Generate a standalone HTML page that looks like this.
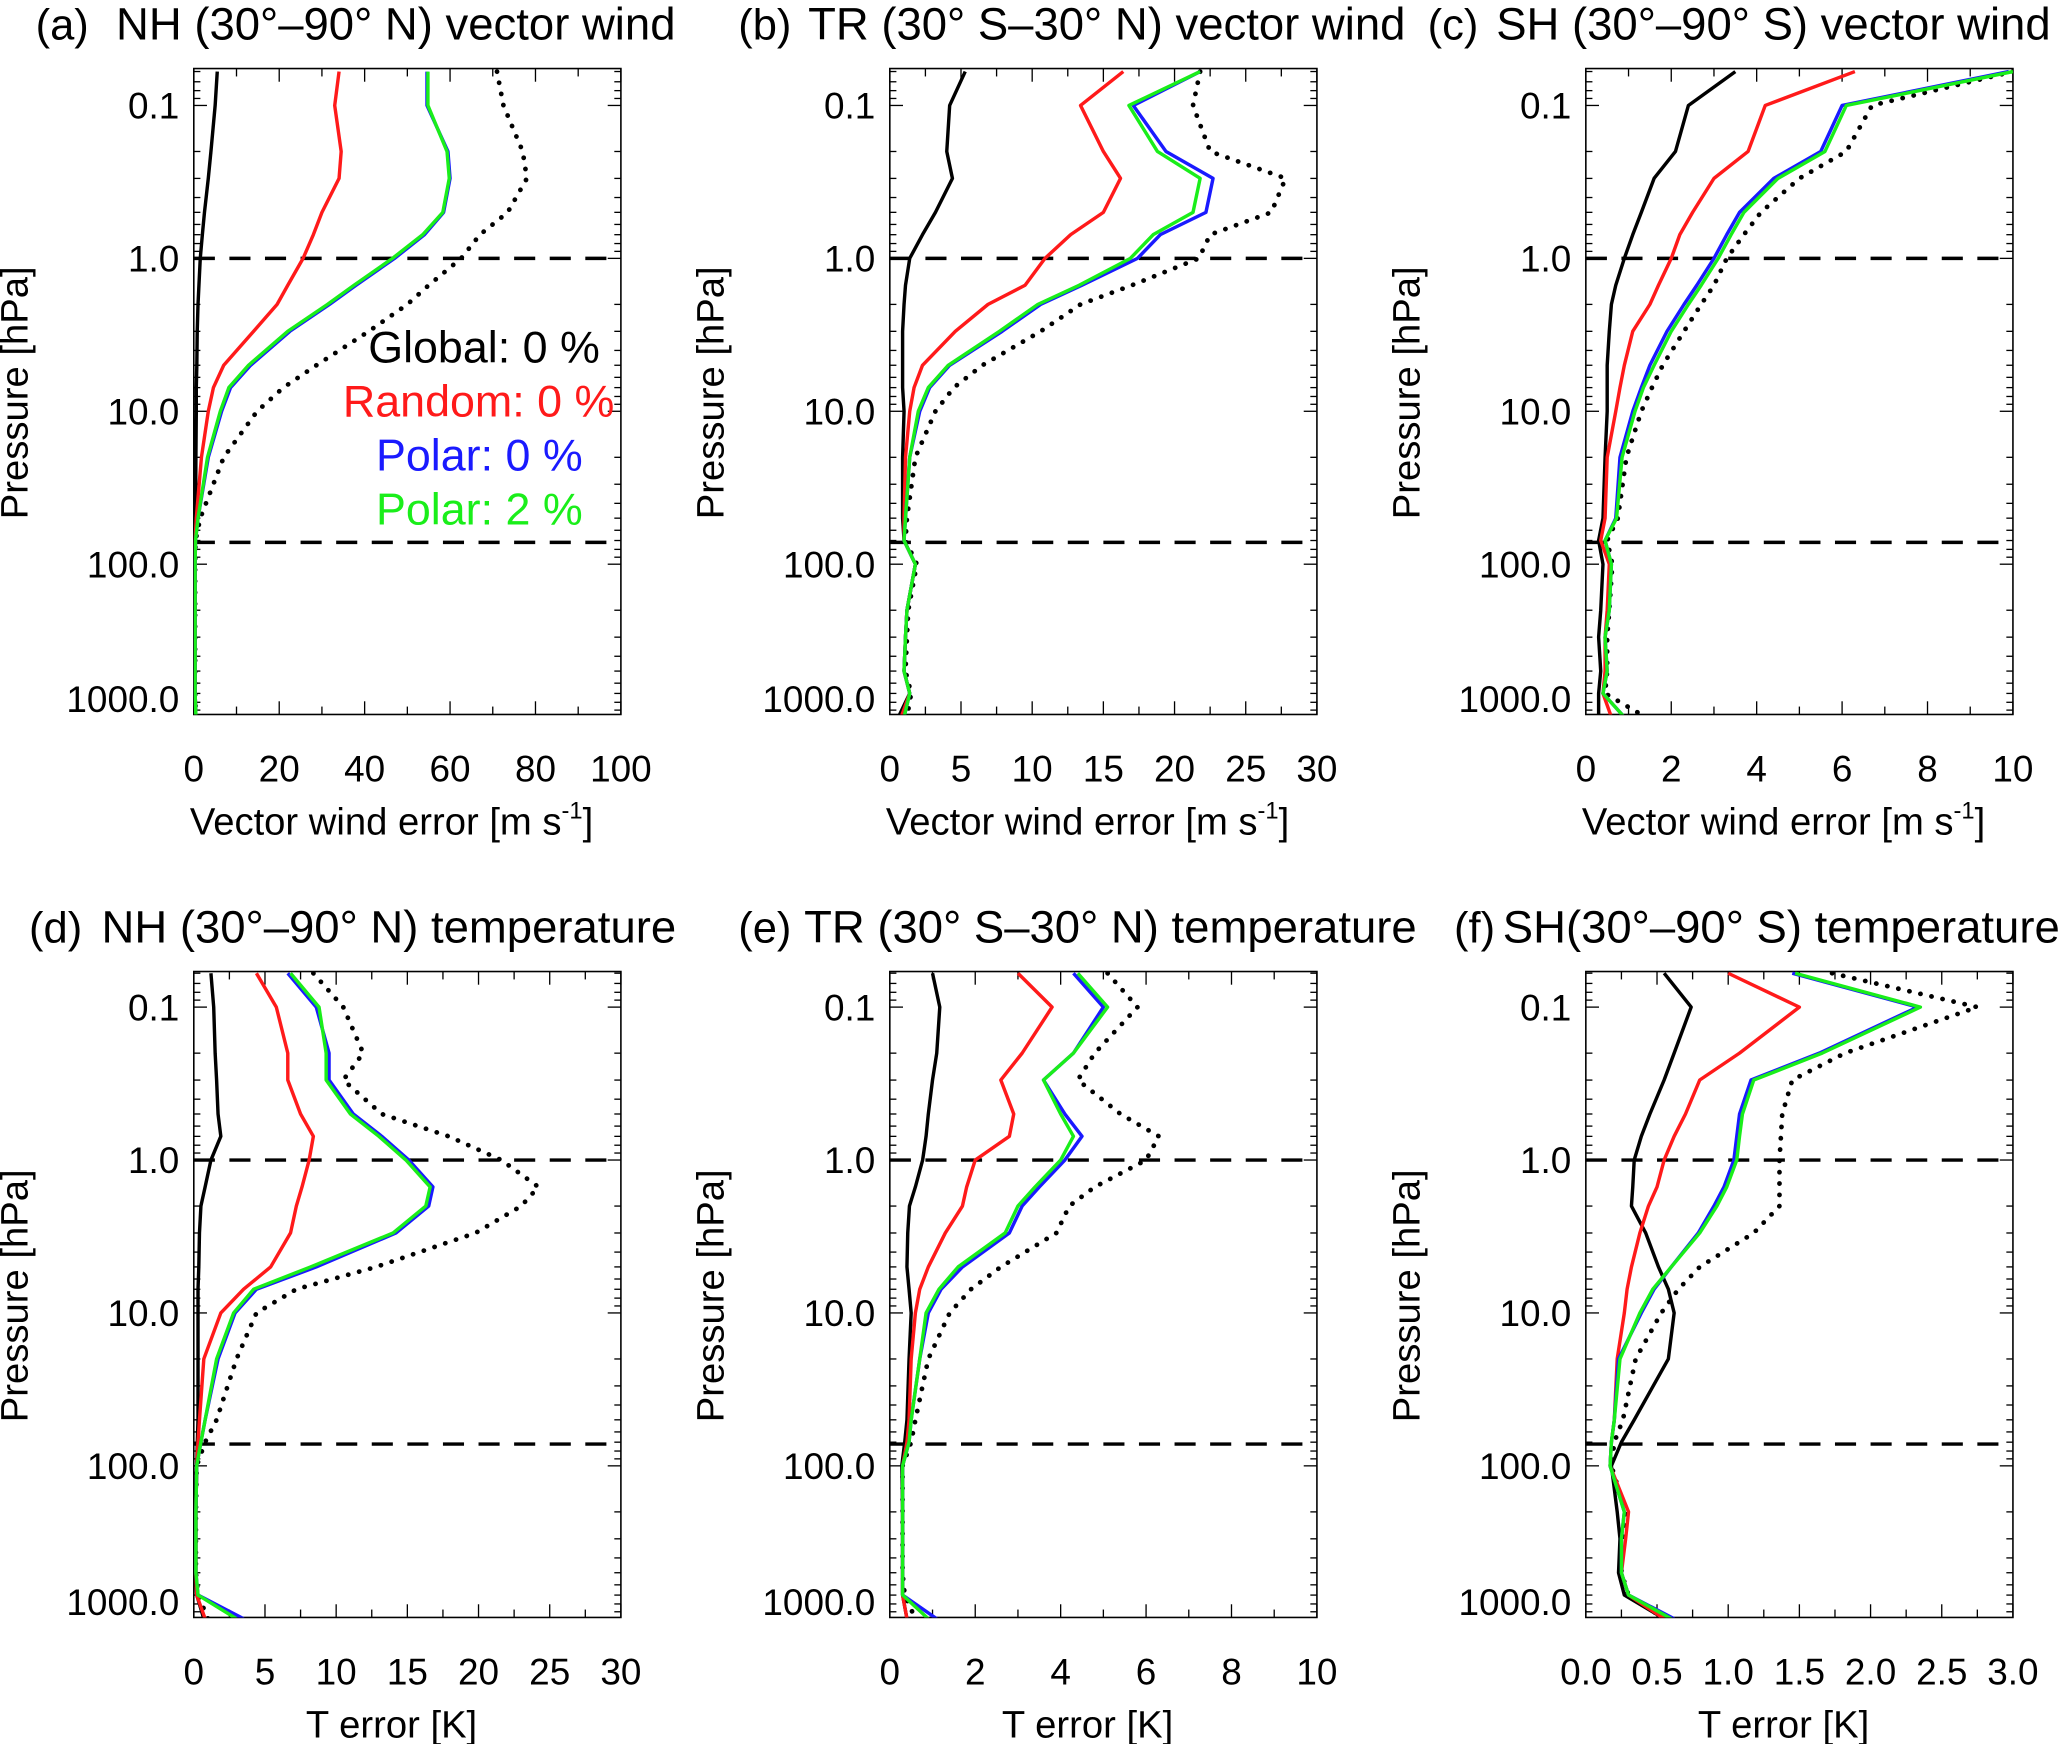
<!DOCTYPE html>
<html><head><meta charset="utf-8"><style>
html,body{margin:0;padding:0;background:#fff;}
svg{display:block;}
text{font-family:"Liberation Sans",Arial,sans-serif;}
</style></head><body>
<svg id="fig" width="2067" height="1744" viewBox="0 0 1568 1323" xmlns="http://www.w3.org/2000/svg"></svg>
<script>
const levels=[0.06,0.1,0.2,0.3,0.5,0.7,1,1.5,2,3,5,7,10,20,50,70,100,200,300,500,700,1000];
const yTickVals=[0.1,1,10,100,1000];
const yTickLabels=["0.1","1.0","10.0","100.0","1000.0"];
const dashLevels=[1,72];
// panel a
const aBlack=[5.5,5,4,3.4,2.5,2,1.5,1.2,1,0.8,0.7,0.6,0.6,0.5,0.4,0.3,0.3,0.3,0.3,0.3,0.3,0.5];
const aRed=[34,33,34.5,34,30,28,25.6,22,19.5,14,7,4.6,3.4,1.8,0.6,0.3,0.3,0.3,0.3,0.3,0.3,0.5];
const aBlue=[54.6,54.6,59.5,60,58.5,54,47,38,31.8,22.5,13.3,8.6,6.5,3.4,1,0.4,0.3,0.3,0.3,0.3,0.3,0.5];
const aGreen=[54.8,54.8,59.3,59.8,58.3,53.6,46.5,37.5,31.3,22,12.8,8.2,6.2,3.2,1,0.4,0.3,0.3,0.3,0.3,0.3,0.5];
const aDot=[71,72.5,77,78,73.5,67,62.6,55,50,41,28.7,21,14.8,7,1.5,0.4,0.3,0.3,0.3,0.3,0.3,0.5];
const aTicks=[0,20,40,60,80,100];
// panel b
const bBlack=[5.3,4.2,4,4.4,3.2,2.3,1.4,1.1,1,0.9,0.9,0.9,1,0.9,0.9,1,1.8,1.2,1.1,1,1.4,0.6];
const bRed=[16.4,13.4,15,16.2,15,12.7,10.9,9.5,6.9,4.6,2.3,1.7,1.4,1.1,1,1,1.8,1.2,1.1,1,1.4,0.8];
const bBlue=[21.8,17.1,19.4,22.7,22.2,19,17.4,13.5,10.6,7.9,4.2,2.8,2.1,1.4,1.1,1,1.8,1.2,1.1,1,1.4,1];
const bGreen=[21.8,16.8,18.8,21.8,21.3,18.5,16.9,13.3,10.4,7.7,4.1,2.7,2,1.4,1.1,1,1.8,1.2,1.1,1,1.4,1];
const bDot=[21.8,21.3,22.5,27.8,26.8,22.5,21.7,17,13.4,10.6,6.5,4.5,3.2,1.8,1.2,1.1,1.9,1.3,1.2,1.1,1.5,1.2];
const bTicks=[0,5,10,15,20,25,30];
// panel c
const cBlack=[3.5,2.4,2.1,1.6,1.3,1.1,0.9,0.7,0.6,0.55,0.5,0.5,0.5,0.45,0.4,0.3,0.4,0.35,0.3,0.35,0.3,0.3];
const cRed=[6.3,4.2,3.8,3,2.5,2.2,2,1.7,1.5,1.1,0.9,0.8,0.7,0.5,0.45,0.35,0.55,0.5,0.45,0.45,0.4,0.6];
const cBlue=[9.9,6,5.5,4.4,3.6,3.3,3,2.6,2.3,1.9,1.5,1.3,1.1,0.8,0.7,0.45,0.6,0.55,0.45,0.5,0.4,0.9];
const cGreen=[10,6.1,5.6,4.5,3.7,3.4,3.1,2.7,2.4,2,1.6,1.35,1.15,0.85,0.72,0.45,0.6,0.55,0.45,0.5,0.4,0.9];
const cDot=[10,6.7,6.1,5,4.1,3.7,3.3,3,2.7,2.3,1.8,1.55,1.3,0.95,0.75,0.5,0.62,0.55,0.5,0.5,0.45,1.4];
const cTicks=[0,2,4,6,8,10];
// panel d
const dBlack=[1.2,1.4,1.5,1.6,1.7,1.9,1.2,0.8,0.5,0.4,0.35,0.3,0.3,0.3,0.3,0.25,0.2,0.15,0.15,0.15,0.2,0.7];
const dRed=[4.4,5.8,6.6,6.6,7.5,8.4,8.1,7.6,7.2,6.8,5.4,3.5,1.9,0.7,0.4,0.3,0.2,0.15,0.15,0.15,0.2,0.8];
const dBlue=[6.6,8.6,9.5,9.5,11.2,13.2,15.1,16.8,16.5,14.2,8.6,4.4,2.9,1.7,0.8,0.5,0.2,0.15,0.15,0.15,0.3,3.5];
const dGreen=[6.8,8.8,9.3,9.3,11,13,14.9,16.6,16.3,14,8.2,4.2,2.8,1.6,0.8,0.5,0.2,0.15,0.15,0.15,0.3,3];
const dDot=[8.4,10.5,11.9,10.5,13.2,17.9,21.6,24.2,23,19.8,12.8,7.2,4.4,3,1.6,0.8,0.2,0.15,0.15,0.15,0.3,1];
const dTicks=[0,5,10,15,20,25,30];
// panel e
const eBlack=[1,1.17,1.1,1,0.9,0.85,0.77,0.6,0.46,0.42,0.4,0.45,0.5,0.45,0.4,0.35,0.28,0.3,0.3,0.3,0.3,0.4];
const eRed=[3,3.8,3.1,2.6,2.9,2.8,2,1.8,1.7,1.3,0.9,0.7,0.6,0.5,0.45,0.4,0.3,0.3,0.3,0.3,0.3,0.4];
const eBlue=[4.3,5,4.3,3.6,4.1,4.5,4.1,3.5,3.1,2.8,1.7,1.2,0.9,0.7,0.5,0.45,0.3,0.3,0.3,0.3,0.3,1.1];
const eGreen=[4.4,5.1,4.3,3.6,4,4.3,4,3.4,3,2.7,1.6,1.15,0.85,0.7,0.5,0.45,0.3,0.3,0.3,0.3,0.3,0.9];
const eDot=[5.1,5.8,4.8,4.4,5.4,6.3,6,4.8,4.2,3.9,2.6,1.9,1.4,0.9,0.6,0.5,0.3,0.3,0.3,0.3,0.35,0.6];
const eTicks=[0,2,4,6,8,10];
// panel f
const fBlack=[0.55,0.74,0.62,0.55,0.45,0.39,0.34,0.33,0.32,0.42,0.51,0.58,0.62,0.58,0.34,0.25,0.18,0.22,0.24,0.23,0.27,0.55];
const fRed=[1,1.5,1.08,0.8,0.7,0.62,0.55,0.5,0.44,0.38,0.32,0.29,0.27,0.22,0.2,0.18,0.17,0.3,0.28,0.25,0.3,0.55];
const fBlue=[1.45,2.33,1.64,1.16,1.08,1.06,1.04,0.97,0.9,0.79,0.6,0.48,0.39,0.23,0.2,0.18,0.17,0.27,0.25,0.25,0.3,0.62];
const fGreen=[1.47,2.35,1.66,1.18,1.1,1.08,1.06,0.99,0.92,0.8,0.6,0.47,0.38,0.24,0.2,0.18,0.17,0.27,0.25,0.25,0.3,0.6];
const fDot=[1.73,2.75,1.82,1.45,1.38,1.37,1.36,1.36,1.36,1.18,0.8,0.65,0.53,0.35,0.26,0.2,0.18,0.28,0.26,0.25,0.3,0.55];
const fTicks=[0,0.5,1,1.5,2,2.5,3];
const fTickLabels=["0.0","0.5","1.0","1.5","2.0","2.5","3.0"];

const NS="http://www.w3.org/2000/svg";
const svg=document.getElementById('fig');
function mk(tag,attrs,parent){const e=document.createElementNS(NS,tag);for(const k in attrs)e.setAttribute(k,attrs[k]);(parent||svg).appendChild(e);return e;}

const panels=[
 {id:'a',x0:147,top:52,yRef:196,max:100,ticks:aTicks,labels:null,series:[aBlack,aRed,aBlue,aGreen,aDot],lab:'(a)',labX:27,title:'NH (30°–90° N) vector wind',tX:88,xt:'wind'},
 {id:'b',x0:675,top:52,yRef:196,max:30,ticks:bTicks,labels:null,series:[bBlack,bRed,bBlue,bGreen,bDot],lab:'(b)',labX:560,title:'TR (30° S–30° N) vector wind',tX:613,xt:'wind'},
 {id:'c',x0:1203,top:52,yRef:196,max:10,ticks:cTicks,labels:null,series:[cBlack,cRed,cBlue,cGreen,cDot],lab:'(c)',labX:1083,title:'SH (30°–90° S) vector wind',tX:1135,xt:'wind'},
 {id:'d',x0:147,top:737,yRef:880,max:30,ticks:dTicks,labels:null,series:[dBlack,dRed,dBlue,dGreen,dDot],lab:'(d)',labX:22,title:'NH (30°–90° N) temperature',tX:77,xt:'T'},
 {id:'e',x0:675,top:737,yRef:880,max:10,ticks:eTicks,labels:null,series:[eBlack,eRed,eBlue,eGreen,eDot],lab:'(e)',labX:560,title:'TR (30° S–30° N) temperature',tX:610,xt:'T'},
 {id:'f',x0:1203,top:737,yRef:880,max:3,ticks:fTicks,labels:fTickLabels,series:[fBlack,fRed,fBlue,fGreen,fDot],lab:'(f)',labX:1103,title:'SH(30°–90° S) temperature',tX:1140,xt:'T'}
];
const W=324,H=490,DEC=116;
const colors=['#000','#ff1a1a','#1a1aff','#1aee1a','#000'];
const names=['global-0-line','random-0-line','polar-0-line','polar-2-line','reference-dotted-line'];

panels.forEach(p=>{
 const g=mk('g',{});
 
 
 const xs=v=>p.x0+v/p.max*W;
 const ys=pr=>p.yRef+DEC*Math.log10(pr);
 const bottom=p.top+H;
 const clipId='clip'+p.id;
 const cp=mk('clipPath',{id:clipId},g);mk('rect',{x:p.x0,y:p.top,width:W,height:H},cp);
 const tl=mk('text',{x:p.labX,y:p.top-22,'font-size':33,fill:'#000'},g);tl.textContent=p.lab;
 
 
 const tt=mk('text',{x:p.tX,y:p.top-22,'font-size':34.5,fill:'#000'},g);tt.textContent=p.title;
 
 
 const fr=mk('rect',{x:p.x0,y:p.top,width:W,height:H,fill:'none',stroke:'#000','stroke-width':1.2},g);
 
 
 for(let e=-2;e<=3;e++){for(let m=1;m<10;m++){const pr=m*Math.pow(10,e);const y=ys(pr);if(y<p.top||y>bottom)continue;const L=m===1?10:5;
  mk('line',{x1:p.x0,x2:p.x0+L,y1:y,y2:y,stroke:'#000','stroke-width':1},g);
  mk('line',{x1:p.x0+W,x2:p.x0+W-L,y1:y,y2:y,stroke:'#000','stroke-width':1},g);}}
 yTickVals.forEach((v,i)=>{const t=mk('text',{x:p.x0-11,y:Math.min(ys(v),bottom-12)+10,'font-size':28,'text-anchor':'end',fill:'#000'},g);t.textContent=yTickLabels[i];
  
  });
 const step=p.ticks[1]-p.ticks[0];
 for(let v=0;v<=p.max+1e-9;v+=step/2){const x=xs(v);const major=Math.abs(v/step-Math.round(v/step))<1e-6;const L=major?10:6;
  mk('line',{x1:x,x2:x,y1:bottom,y2:bottom-L,stroke:'#000','stroke-width':1},g);
  mk('line',{x1:x,x2:x,y1:p.top,y2:p.top+L,stroke:'#000','stroke-width':1},g);}
 p.ticks.forEach((v,i)=>{const t=mk('text',{x:xs(v),y:bottom+51,'font-size':28,'text-anchor':'middle',fill:'#000'},g);t.textContent=p.labels?p.labels[i]:String(v);
  
  });
 const yt=mk('text',{x:0,y:0,'font-size':29,'text-anchor':'middle',fill:'#000',transform:`translate(${p.x0-126},${p.top+246}) rotate(-90)`},g);yt.textContent='Pressure [hPa]';
 
 
 const xt=mk('text',{x:p.x0+W/2-12,y:bottom+91,'font-size':29,'text-anchor':'middle',fill:'#000'},g);
 
 
 if(p.xt==='wind'){xt.innerHTML='Vector wind error [m s<tspan font-size="18" dy="-12">-1</tspan><tspan dy="12">]</tspan>';}
 else{xt.textContent='T error [K]';}
 dashLevels.forEach(lv=>{const l=mk('line',{x1:p.x0,x2:p.x0+W,y1:ys(lv),y2:ys(lv),stroke:'#000','stroke-width':2.6,'stroke-dasharray':'16 11'},g);
  
  });
 const sg=mk('g',{'clip-path':`url(#${clipId})`},g);
 [4,0,1,2,3].forEach(k=>{const arr=p.series[k];const d=arr.map((v,i)=>(i?'L':'M')+xs(v).toFixed(1)+','+ys(levels[i]).toFixed(1)).join(' ');
  const attrs={d:d,fill:'none',stroke:colors[k],'stroke-width':2.6,'stroke-linejoin':'round'};
  if(k===4){attrs['stroke-dasharray']='0.1 8.5';attrs['stroke-linecap']='round';attrs['stroke-width']=3.6;}
  const pa=mk('path',attrs,sg);
  
  });
});
const legend=[['Global: 0 %','#000',455,275],['Random: 0 %','#ff1a1a',466,316],['Polar: 0 %','#1a1aff',442,357],['Polar: 2 %','#1aee1a',442,398]];
legend.forEach(l=>{const t=mk('text',{x:l[2],y:l[3],'font-size':34,'text-anchor':'end',fill:l[1]});t.textContent=l[0];
 
 });
</script>
</body></html>
